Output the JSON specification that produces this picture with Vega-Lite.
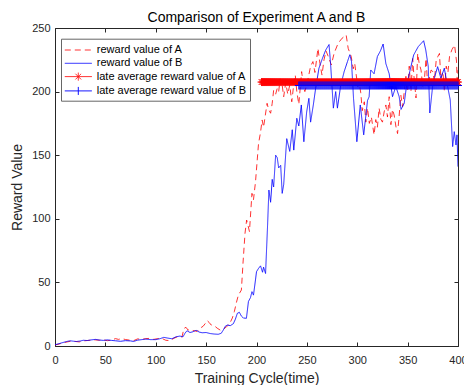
{
"$schema":"https://vega.github.io/schema/vega-lite/v6.json",
"width":403,"height":318,
"autosize":{"type":"none"},
"padding":{"left":55,"top":28,"right":6,"bottom":39},
"background":"white",
"config":{"view":{"stroke":null},"font":"Liberation Sans"},
"title":{"text":"Comparison of Experiment A and B","fontSize":14,"fontWeight":"normal","font":"Liberation Sans","color":"#000000","baseline":"alphabetic","offset":6,"dy":20,"anchor":"middle"},
"data":{"values":[
{"s":"A","x":0,"y":0.8},{"s":"A","x":4,"y":1.5},{"s":"A","x":8,"y":2.5},{"s":"A","x":12,"y":3.2},{"s":"A","x":16,"y":3.8},{"s":"A","x":20,"y":3.6},{"s":"A","x":24,"y":3.2},{"s":"A","x":28,"y":4.0},{"s":"A","x":32,"y":4.3},{"s":"A","x":36,"y":4.6},{"s":"A","x":40,"y":4.8},{"s":"A","x":44,"y":4.5},{"s":"A","x":48,"y":4.8},{"s":"A","x":52,"y":4.2},{"s":"A","x":56,"y":4.6},{"s":"A","x":60,"y":5.8},{"s":"A","x":63,"y":5.2},{"s":"A","x":66,"y":5.8},{"s":"A","x":70,"y":5.1},{"s":"A","x":74,"y":4.6},{"s":"A","x":78,"y":4.2},{"s":"A","x":82,"y":5.6},{"s":"A","x":86,"y":5.2},{"s":"A","x":90,"y":5.8},{"s":"A","x":94,"y":6.0},{"s":"A","x":98,"y":5.2},{"s":"A","x":102,"y":5.8},{"s":"A","x":106,"y":6.0},{"s":"A","x":110,"y":4.5},{"s":"A","x":114,"y":4.2},{"s":"A","x":118,"y":6.0},{"s":"A","x":122,"y":7.5},{"s":"A","x":126,"y":7.0},{"s":"A","x":128,"y":13.8},{"s":"A","x":130,"y":14.7},{"s":"A","x":132,"y":12.6},{"s":"A","x":135,"y":12.5},{"s":"A","x":138,"y":12.0},{"s":"A","x":141,"y":11.5},{"s":"A","x":144,"y":14.0},{"s":"A","x":147,"y":15.5},{"s":"A","x":149,"y":17.5},{"s":"A","x":151,"y":20.0},{"s":"A","x":153,"y":18.5},{"s":"A","x":155,"y":16.5},{"s":"A","x":158,"y":16.0},{"s":"A","x":161,"y":14.0},{"s":"A","x":164,"y":12.5},{"s":"A","x":167,"y":13.0},{"s":"A","x":170,"y":15.0},{"s":"A","x":173,"y":17.0},{"s":"A","x":176,"y":22.0},{"s":"A","x":178,"y":27.0},{"s":"A","x":180,"y":34.0},{"s":"A","x":182,"y":40.0},{"s":"A","x":185,"y":44.0},{"s":"A","x":186.6,"y":65.0},{"s":"A","x":188.6,"y":88.6},{"s":"A","x":190.2,"y":99.0},{"s":"A","x":191.5,"y":95.0},{"s":"A","x":193,"y":90.0},{"s":"A","x":195.5,"y":120.0},{"s":"A","x":197,"y":115.0},{"s":"A","x":199,"y":129.0},{"s":"A","x":202,"y":159.0},{"s":"A","x":204,"y":168.0},{"s":"A","x":205.6,"y":177.7},{"s":"A","x":207,"y":172.0},{"s":"A","x":208.5,"y":180.0},{"s":"A","x":210.5,"y":190.8},{"s":"A","x":212,"y":186.0},{"s":"A","x":214,"y":183.0},{"s":"A","x":215.6,"y":190.8},{"s":"A","x":217,"y":201.0},{"s":"A","x":219,"y":198.0},{"s":"A","x":220.6,"y":202.6},{"s":"A","x":222,"y":200.0},{"s":"A","x":223.5,"y":210.0},{"s":"A","x":225.5,"y":205.0},{"s":"A","x":227,"y":196.0},{"s":"A","x":229,"y":207.0},{"s":"A","x":231,"y":198.0},{"s":"A","x":233,"y":205.0},{"s":"A","x":235,"y":192.0},{"s":"A","x":237,"y":206.0},{"s":"A","x":238.5,"y":213.0},{"s":"A","x":240,"y":200.0},{"s":"A","x":242,"y":190.0},{"s":"A","x":244.8,"y":215.7},{"s":"A","x":246.5,"y":205.0},{"s":"A","x":248,"y":200.0},{"s":"A","x":250.4,"y":207.0},{"s":"A","x":253.7,"y":220.0},{"s":"A","x":256,"y":223.6},{"s":"A","x":258,"y":215.0},{"s":"A","x":261,"y":234.0},{"s":"A","x":263,"y":222.0},{"s":"A","x":265,"y":213.0},{"s":"A","x":267,"y":225.0},{"s":"A","x":269,"y":232.0},{"s":"A","x":271,"y":228.0},{"s":"A","x":274.3,"y":221.0},{"s":"A","x":277,"y":230.0},{"s":"A","x":281,"y":238.0},{"s":"A","x":285,"y":242.0},{"s":"A","x":289,"y":244.5},{"s":"A","x":291,"y":234.0},{"s":"A","x":294,"y":227.6},{"s":"A","x":296,"y":218.0},{"s":"A","x":297.5,"y":222.0},{"s":"A","x":299,"y":213.0},{"s":"A","x":300.5,"y":204.0},{"s":"A","x":302,"y":206.5},{"s":"A","x":303.5,"y":199.0},{"s":"A","x":305,"y":185.0},{"s":"A","x":307,"y":192.0},{"s":"A","x":308.5,"y":176.0},{"s":"A","x":310.2,"y":187.0},{"s":"A","x":312,"y":175.0},{"s":"A","x":314,"y":180.0},{"s":"A","x":316.7,"y":166.0},{"s":"A","x":318.4,"y":178.0},{"s":"A","x":320,"y":172.0},{"s":"A","x":321.7,"y":187.0},{"s":"A","x":323.5,"y":178.0},{"s":"A","x":325,"y":176.0},{"s":"A","x":326.7,"y":184.0},{"s":"A","x":328.4,"y":189.5},{"s":"A","x":330,"y":180.0},{"s":"A","x":331.7,"y":196.0},{"s":"A","x":333.4,"y":174.0},{"s":"A","x":335,"y":186.0},{"s":"A","x":336.6,"y":181.6},{"s":"A","x":338.5,"y":172.0},{"s":"A","x":340,"y":167.0},{"s":"A","x":341.5,"y":180.0},{"s":"A","x":343.3,"y":197.0},{"s":"A","x":345,"y":188.0},{"s":"A","x":348.3,"y":212.0},{"s":"A","x":350,"y":200.0},{"s":"A","x":351.6,"y":220.0},{"s":"A","x":353.3,"y":200.0},{"s":"A","x":355,"y":226.0},{"s":"A","x":356.5,"y":210.0},{"s":"A","x":358.3,"y":195.0},{"s":"A","x":360,"y":230.0},{"s":"A","x":361.5,"y":222.0},{"s":"A","x":363.3,"y":217.0},{"s":"A","x":365,"y":204.0},{"s":"A","x":366.6,"y":209.0},{"s":"A","x":368.3,"y":226.0},{"s":"A","x":370,"y":204.0},{"s":"A","x":371.5,"y":210.0},{"s":"A","x":373.3,"y":217.0},{"s":"A","x":375,"y":215.7},{"s":"A","x":376.5,"y":208.0},{"s":"A","x":378.3,"y":224.0},{"s":"A","x":380,"y":227.6},{"s":"A","x":381.6,"y":230.0},{"s":"A","x":383,"y":210.0},{"s":"A","x":385,"y":215.7},{"s":"A","x":386.5,"y":200.0},{"s":"A","x":388.3,"y":220.0},{"s":"A","x":390,"y":215.0},{"s":"A","x":391.6,"y":227.6},{"s":"A","x":394,"y":233.0},{"s":"A","x":396.6,"y":236.6},{"s":"A","x":398.5,"y":224.0},{"s":"A","x":399.3,"y":205.0},{"s":"A","x":400,"y":217.0},
{"s":"B","x":0,"y":1.0},{"s":"B","x":3,"y":1.6},{"s":"B","x":6,"y":2.3},{"s":"B","x":9,"y":3.0},{"s":"B","x":12,"y":3.6},{"s":"B","x":15,"y":4.1},{"s":"B","x":18,"y":3.8},{"s":"B","x":21,"y":3.5},{"s":"B","x":25,"y":3.9},{"s":"B","x":28,"y":4.5},{"s":"B","x":32,"y":4.3},{"s":"B","x":36,"y":4.8},{"s":"B","x":40,"y":5.2},{"s":"B","x":44,"y":4.7},{"s":"B","x":48,"y":4.4},{"s":"B","x":52,"y":4.8},{"s":"B","x":56,"y":4.4},{"s":"B","x":60,"y":4.1},{"s":"B","x":65,"y":3.7},{"s":"B","x":70,"y":4.2},{"s":"B","x":75,"y":4.0},{"s":"B","x":78,"y":3.6},{"s":"B","x":82,"y":4.6},{"s":"B","x":86,"y":5.0},{"s":"B","x":90,"y":5.4},{"s":"B","x":95,"y":5.0},{"s":"B","x":100,"y":5.0},{"s":"B","x":104,"y":5.7},{"s":"B","x":108,"y":6.8},{"s":"B","x":112,"y":6.2},{"s":"B","x":116,"y":5.7},{"s":"B","x":120,"y":7.2},{"s":"B","x":124,"y":7.8},{"s":"B","x":127,"y":7.2},{"s":"B","x":129,"y":10.0},{"s":"B","x":131,"y":12.0},{"s":"B","x":134,"y":10.6},{"s":"B","x":137,"y":11.2},{"s":"B","x":140,"y":12.4},{"s":"B","x":143,"y":11.0},{"s":"B","x":146,"y":10.4},{"s":"B","x":150,"y":10.6},{"s":"B","x":154,"y":9.8},{"s":"B","x":158,"y":9.4},{"s":"B","x":162,"y":9.2},{"s":"B","x":165,"y":10.0},{"s":"B","x":167,"y":12.5},{"s":"B","x":169,"y":15.5},{"s":"B","x":171,"y":16.5},{"s":"B","x":174,"y":16.0},{"s":"B","x":177,"y":17.5},{"s":"B","x":179,"y":21.0},{"s":"B","x":181,"y":25.7},{"s":"B","x":183,"y":26.5},{"s":"B","x":185,"y":23.5},{"s":"B","x":187,"y":22.0},{"s":"B","x":190,"y":21.8},{"s":"B","x":192,"y":35.0},{"s":"B","x":194,"y":38.0},{"s":"B","x":195.5,"y":42.7},{"s":"B","x":197,"y":40.0},{"s":"B","x":199,"y":52.0},{"s":"B","x":200,"y":58.4},{"s":"B","x":202,"y":61.0},{"s":"B","x":204,"y":63.0},{"s":"B","x":206,"y":58.0},{"s":"B","x":207,"y":62.0},{"s":"B","x":209,"y":57.0},{"s":"B","x":211,"y":95.0},{"s":"B","x":212.3,"y":122.6},{"s":"B","x":214,"y":113.0},{"s":"B","x":215.6,"y":131.0},{"s":"B","x":217,"y":125.0},{"s":"B","x":219,"y":150.0},{"s":"B","x":220.6,"y":148.0},{"s":"B","x":222,"y":140.0},{"s":"B","x":224,"y":142.0},{"s":"B","x":225.5,"y":120.0},{"s":"B","x":227,"y":127.0},{"s":"B","x":230,"y":163.0},{"s":"B","x":233,"y":153.0},{"s":"B","x":235.5,"y":170.0},{"s":"B","x":237,"y":154.0},{"s":"B","x":240,"y":179.0},{"s":"B","x":242,"y":173.0},{"s":"B","x":244.5,"y":189.5},{"s":"B","x":247,"y":160.6},{"s":"B","x":249.8,"y":184.0},{"s":"B","x":252,"y":194.7},{"s":"B","x":253.7,"y":176.0},{"s":"B","x":256.4,"y":189.5},{"s":"B","x":258.7,"y":202.6},{"s":"B","x":262,"y":218.4},{"s":"B","x":265.4,"y":226.0},{"s":"B","x":268.7,"y":232.7},{"s":"B","x":272,"y":237.0},{"s":"B","x":273.6,"y":221.0},{"s":"B","x":276.3,"y":187.0},{"s":"B","x":278.6,"y":200.0},{"s":"B","x":280.3,"y":187.0},{"s":"B","x":283.6,"y":205.0},{"s":"B","x":287,"y":215.7},{"s":"B","x":290.3,"y":223.6},{"s":"B","x":292.6,"y":229.0},{"s":"B","x":294.3,"y":223.6},{"s":"B","x":296.3,"y":194.7},{"s":"B","x":299.6,"y":160.6},{"s":"B","x":303,"y":189.5},{"s":"B","x":306.4,"y":166.0},{"s":"B","x":310.2,"y":193.0},{"s":"B","x":311.8,"y":196.0},{"s":"B","x":313.4,"y":217.0},{"s":"B","x":316.7,"y":214.0},{"s":"B","x":320,"y":227.6},{"s":"B","x":323,"y":232.0},{"s":"B","x":325.7,"y":237.4},{"s":"B","x":328.4,"y":222.0},{"s":"B","x":331.7,"y":214.0},{"s":"B","x":335,"y":196.0},{"s":"B","x":338.3,"y":204.0},{"s":"B","x":341.6,"y":196.0},{"s":"B","x":343.5,"y":186.0},{"s":"B","x":346.6,"y":190.8},{"s":"B","x":349,"y":205.0},{"s":"B","x":351.6,"y":214.0},{"s":"B","x":356,"y":228.8},{"s":"B","x":360.5,"y":235.3},{"s":"B","x":365.9,"y":240.0},{"s":"B","x":368,"y":232.7},{"s":"B","x":370.5,"y":219.6},{"s":"B","x":372,"y":183.2},{"s":"B","x":374.8,"y":204.0},{"s":"B","x":377,"y":212.0},{"s":"B","x":379.8,"y":219.6},{"s":"B","x":383,"y":210.5},{"s":"B","x":386.4,"y":218.4},{"s":"B","x":389.7,"y":204.0},{"s":"B","x":392.3,"y":193.4},{"s":"B","x":394.7,"y":156.8},{"s":"B","x":396.3,"y":168.5},{"s":"B","x":398,"y":158.0},{"s":"B","x":399,"y":166.0},{"s":"B","x":400,"y":141.0},
{"s":"mA","x":205,"y":207.5},{"s":"mA","x":206,"y":207.5},{"s":"mA","x":207,"y":207.5},{"s":"mA","x":208,"y":207.5},{"s":"mA","x":209,"y":207.5},{"s":"mA","x":210,"y":207.5},{"s":"mA","x":211,"y":207.5},{"s":"mA","x":212,"y":207.5},{"s":"mA","x":213,"y":207.5},{"s":"mA","x":214,"y":207.5},{"s":"mA","x":215,"y":207.5},{"s":"mA","x":216,"y":207.5},{"s":"mA","x":217,"y":207.5},{"s":"mA","x":218,"y":207.5},{"s":"mA","x":219,"y":207.5},{"s":"mA","x":220,"y":207.5},{"s":"mA","x":221,"y":207.5},{"s":"mA","x":222,"y":207.5},{"s":"mA","x":223,"y":207.5},{"s":"mA","x":224,"y":207.5},{"s":"mA","x":225,"y":207.5},{"s":"mA","x":226,"y":207.5},{"s":"mA","x":227,"y":207.5},{"s":"mA","x":228,"y":207.5},{"s":"mA","x":229,"y":207.5},{"s":"mA","x":230,"y":207.5},{"s":"mA","x":231,"y":207.5},{"s":"mA","x":232,"y":207.5},{"s":"mA","x":233,"y":207.5},{"s":"mA","x":234,"y":207.5},{"s":"mA","x":235,"y":207.5},{"s":"mA","x":236,"y":207.5},{"s":"mA","x":237,"y":207.5},{"s":"mA","x":238,"y":207.5},{"s":"mA","x":239,"y":207.5},{"s":"mA","x":240,"y":207.5},{"s":"mA","x":241,"y":207.5},{"s":"mA","x":242,"y":207.5},{"s":"mA","x":243,"y":207.5},{"s":"mA","x":244,"y":207.5},{"s":"mA","x":245,"y":207.5},{"s":"mA","x":246,"y":207.5},{"s":"mA","x":247,"y":207.5},{"s":"mA","x":248,"y":207.5},{"s":"mA","x":249,"y":207.5},{"s":"mA","x":250,"y":207.5},{"s":"mA","x":251,"y":207.5},{"s":"mA","x":252,"y":207.5},{"s":"mA","x":253,"y":207.5},{"s":"mA","x":254,"y":207.5},{"s":"mA","x":255,"y":207.5},{"s":"mA","x":256,"y":207.5},{"s":"mA","x":257,"y":207.5},{"s":"mA","x":258,"y":207.5},{"s":"mA","x":259,"y":207.5},{"s":"mA","x":260,"y":207.5},{"s":"mA","x":261,"y":207.5},{"s":"mA","x":262,"y":207.5},{"s":"mA","x":263,"y":207.5},{"s":"mA","x":264,"y":207.5},{"s":"mA","x":265,"y":207.5},{"s":"mA","x":266,"y":207.5},{"s":"mA","x":267,"y":207.5},{"s":"mA","x":268,"y":207.5},{"s":"mA","x":269,"y":207.5},{"s":"mA","x":270,"y":207.5},{"s":"mA","x":271,"y":207.5},{"s":"mA","x":272,"y":207.5},{"s":"mA","x":273,"y":207.5},{"s":"mA","x":274,"y":207.5},{"s":"mA","x":275,"y":207.5},{"s":"mA","x":276,"y":207.5},{"s":"mA","x":277,"y":207.5},{"s":"mA","x":278,"y":207.5},{"s":"mA","x":279,"y":207.5},{"s":"mA","x":280,"y":207.5},{"s":"mA","x":281,"y":207.5},{"s":"mA","x":282,"y":207.5},{"s":"mA","x":283,"y":207.5},{"s":"mA","x":284,"y":207.5},{"s":"mA","x":285,"y":207.5},{"s":"mA","x":286,"y":207.5},{"s":"mA","x":287,"y":207.5},{"s":"mA","x":288,"y":207.5},{"s":"mA","x":289,"y":207.5},{"s":"mA","x":290,"y":207.5},{"s":"mA","x":291,"y":207.5},{"s":"mA","x":292,"y":207.5},{"s":"mA","x":293,"y":207.5},{"s":"mA","x":294,"y":207.5},{"s":"mA","x":295,"y":207.5},{"s":"mA","x":296,"y":207.5},{"s":"mA","x":297,"y":207.5},{"s":"mA","x":298,"y":207.5},{"s":"mA","x":299,"y":207.5},{"s":"mA","x":300,"y":207.5},{"s":"mA","x":301,"y":207.5},{"s":"mA","x":302,"y":207.5},{"s":"mA","x":303,"y":207.5},{"s":"mA","x":304,"y":207.5},{"s":"mA","x":305,"y":207.5},{"s":"mA","x":306,"y":207.5},{"s":"mA","x":307,"y":207.5},{"s":"mA","x":308,"y":207.5},{"s":"mA","x":309,"y":207.5},{"s":"mA","x":310,"y":207.5},{"s":"mA","x":311,"y":207.5},{"s":"mA","x":312,"y":207.5},{"s":"mA","x":313,"y":207.5},{"s":"mA","x":314,"y":207.5},{"s":"mA","x":315,"y":207.5},{"s":"mA","x":316,"y":207.5},{"s":"mA","x":317,"y":207.5},{"s":"mA","x":318,"y":207.5},{"s":"mA","x":319,"y":207.5},{"s":"mA","x":320,"y":207.5},{"s":"mA","x":321,"y":207.5},{"s":"mA","x":322,"y":207.5},{"s":"mA","x":323,"y":207.5},{"s":"mA","x":324,"y":207.5},{"s":"mA","x":325,"y":207.5},{"s":"mA","x":326,"y":207.5},{"s":"mA","x":327,"y":207.5},{"s":"mA","x":328,"y":207.5},{"s":"mA","x":329,"y":207.5},{"s":"mA","x":330,"y":207.5},{"s":"mA","x":331,"y":207.5},{"s":"mA","x":332,"y":207.5},{"s":"mA","x":333,"y":207.5},{"s":"mA","x":334,"y":207.5},{"s":"mA","x":335,"y":207.5},{"s":"mA","x":336,"y":207.5},{"s":"mA","x":337,"y":207.5},{"s":"mA","x":338,"y":207.5},{"s":"mA","x":339,"y":207.5},{"s":"mA","x":340,"y":207.5},{"s":"mA","x":341,"y":207.5},{"s":"mA","x":342,"y":207.5},{"s":"mA","x":343,"y":207.5},{"s":"mA","x":344,"y":207.5},{"s":"mA","x":345,"y":207.5},{"s":"mA","x":346,"y":207.5},{"s":"mA","x":347,"y":207.5},{"s":"mA","x":348,"y":207.5},{"s":"mA","x":349,"y":207.5},{"s":"mA","x":350,"y":207.5},{"s":"mA","x":351,"y":207.5},{"s":"mA","x":352,"y":207.5},{"s":"mA","x":353,"y":207.5},{"s":"mA","x":354,"y":207.5},{"s":"mA","x":355,"y":207.5},{"s":"mA","x":356,"y":207.5},{"s":"mA","x":357,"y":207.5},{"s":"mA","x":358,"y":207.5},{"s":"mA","x":359,"y":207.5},{"s":"mA","x":360,"y":207.5},{"s":"mA","x":361,"y":207.5},{"s":"mA","x":362,"y":207.5},{"s":"mA","x":363,"y":207.5},{"s":"mA","x":364,"y":207.5},{"s":"mA","x":365,"y":207.5},{"s":"mA","x":366,"y":207.5},{"s":"mA","x":367,"y":207.5},{"s":"mA","x":368,"y":207.5},{"s":"mA","x":369,"y":207.5},{"s":"mA","x":370,"y":207.5},{"s":"mA","x":371,"y":207.5},{"s":"mA","x":372,"y":207.5},{"s":"mA","x":373,"y":207.5},{"s":"mA","x":374,"y":207.5},{"s":"mA","x":375,"y":207.5},{"s":"mA","x":376,"y":207.5},{"s":"mA","x":377,"y":207.5},{"s":"mA","x":378,"y":207.5},{"s":"mA","x":379,"y":207.5},{"s":"mA","x":380,"y":207.5},{"s":"mA","x":381,"y":207.5},{"s":"mA","x":382,"y":207.5},{"s":"mA","x":383,"y":207.5},{"s":"mA","x":384,"y":207.5},{"s":"mA","x":385,"y":207.5},{"s":"mA","x":386,"y":207.5},{"s":"mA","x":387,"y":207.5},{"s":"mA","x":388,"y":207.5},{"s":"mA","x":389,"y":207.5},{"s":"mA","x":390,"y":207.5},{"s":"mA","x":391,"y":207.5},{"s":"mA","x":392,"y":207.5},{"s":"mA","x":393,"y":207.5},{"s":"mA","x":394,"y":207.5},{"s":"mA","x":395,"y":207.5},{"s":"mA","x":396,"y":207.5},{"s":"mA","x":397,"y":207.5},{"s":"mA","x":398,"y":207.5},{"s":"mA","x":399,"y":207.5},{"s":"mA","x":400,"y":207.5},
{"s":"mB","x":242,"y":204.8},{"s":"mB","x":243,"y":204.8},{"s":"mB","x":244,"y":204.8},{"s":"mB","x":245,"y":204.8},{"s":"mB","x":246,"y":204.8},{"s":"mB","x":247,"y":204.8},{"s":"mB","x":248,"y":204.8},{"s":"mB","x":249,"y":204.8},{"s":"mB","x":250,"y":204.8},{"s":"mB","x":251,"y":204.8},{"s":"mB","x":252,"y":204.8},{"s":"mB","x":253,"y":204.8},{"s":"mB","x":254,"y":204.8},{"s":"mB","x":255,"y":204.8},{"s":"mB","x":256,"y":204.8},{"s":"mB","x":257,"y":204.8},{"s":"mB","x":258,"y":204.8},{"s":"mB","x":259,"y":204.8},{"s":"mB","x":260,"y":204.8},{"s":"mB","x":261,"y":204.8},{"s":"mB","x":262,"y":204.8},{"s":"mB","x":263,"y":204.8},{"s":"mB","x":264,"y":204.8},{"s":"mB","x":265,"y":204.8},{"s":"mB","x":266,"y":204.8},{"s":"mB","x":267,"y":204.8},{"s":"mB","x":268,"y":204.8},{"s":"mB","x":269,"y":204.8},{"s":"mB","x":270,"y":204.8},{"s":"mB","x":271,"y":204.8},{"s":"mB","x":272,"y":204.8},{"s":"mB","x":273,"y":204.8},{"s":"mB","x":274,"y":204.8},{"s":"mB","x":275,"y":204.8},{"s":"mB","x":276,"y":204.8},{"s":"mB","x":277,"y":204.8},{"s":"mB","x":278,"y":204.8},{"s":"mB","x":279,"y":204.8},{"s":"mB","x":280,"y":204.8},{"s":"mB","x":281,"y":204.8},{"s":"mB","x":282,"y":204.8},{"s":"mB","x":283,"y":204.8},{"s":"mB","x":284,"y":204.8},{"s":"mB","x":285,"y":204.8},{"s":"mB","x":286,"y":204.8},{"s":"mB","x":287,"y":204.8},{"s":"mB","x":288,"y":204.8},{"s":"mB","x":289,"y":204.8},{"s":"mB","x":290,"y":204.8},{"s":"mB","x":291,"y":204.8},{"s":"mB","x":292,"y":204.8},{"s":"mB","x":293,"y":204.8},{"s":"mB","x":294,"y":204.8},{"s":"mB","x":295,"y":204.8},{"s":"mB","x":296,"y":204.8},{"s":"mB","x":297,"y":204.8},{"s":"mB","x":298,"y":204.8},{"s":"mB","x":299,"y":204.8},{"s":"mB","x":300,"y":204.8},{"s":"mB","x":301,"y":204.8},{"s":"mB","x":302,"y":204.8},{"s":"mB","x":303,"y":204.8},{"s":"mB","x":304,"y":204.8},{"s":"mB","x":305,"y":204.8},{"s":"mB","x":306,"y":204.8},{"s":"mB","x":307,"y":204.8},{"s":"mB","x":308,"y":204.8},{"s":"mB","x":309,"y":204.8},{"s":"mB","x":310,"y":204.8},{"s":"mB","x":311,"y":204.8},{"s":"mB","x":312,"y":204.8},{"s":"mB","x":313,"y":204.8},{"s":"mB","x":314,"y":204.8},{"s":"mB","x":315,"y":204.8},{"s":"mB","x":316,"y":204.8},{"s":"mB","x":317,"y":204.8},{"s":"mB","x":318,"y":204.8},{"s":"mB","x":319,"y":204.8},{"s":"mB","x":320,"y":204.8},{"s":"mB","x":321,"y":204.8},{"s":"mB","x":322,"y":204.8},{"s":"mB","x":323,"y":204.8},{"s":"mB","x":324,"y":204.8},{"s":"mB","x":325,"y":204.8},{"s":"mB","x":326,"y":204.8},{"s":"mB","x":327,"y":204.8},{"s":"mB","x":328,"y":204.8},{"s":"mB","x":329,"y":204.8},{"s":"mB","x":330,"y":204.8},{"s":"mB","x":331,"y":204.8},{"s":"mB","x":332,"y":204.8},{"s":"mB","x":333,"y":204.8},{"s":"mB","x":334,"y":204.8},{"s":"mB","x":335,"y":204.8},{"s":"mB","x":336,"y":204.8},{"s":"mB","x":337,"y":204.8},{"s":"mB","x":338,"y":204.8},{"s":"mB","x":339,"y":204.8},{"s":"mB","x":340,"y":204.8},{"s":"mB","x":341,"y":204.8},{"s":"mB","x":342,"y":204.8},{"s":"mB","x":343,"y":204.8},{"s":"mB","x":344,"y":204.8},{"s":"mB","x":345,"y":204.8},{"s":"mB","x":346,"y":204.8},{"s":"mB","x":347,"y":204.8},{"s":"mB","x":348,"y":204.8},{"s":"mB","x":349,"y":204.8},{"s":"mB","x":350,"y":204.8},{"s":"mB","x":351,"y":204.8},{"s":"mB","x":352,"y":204.8},{"s":"mB","x":353,"y":204.8},{"s":"mB","x":354,"y":204.8},{"s":"mB","x":355,"y":204.8},{"s":"mB","x":356,"y":204.8},{"s":"mB","x":357,"y":204.8},{"s":"mB","x":358,"y":204.8},{"s":"mB","x":359,"y":204.8},{"s":"mB","x":360,"y":204.8},{"s":"mB","x":361,"y":204.8},{"s":"mB","x":362,"y":204.8},{"s":"mB","x":363,"y":204.8},{"s":"mB","x":364,"y":204.8},{"s":"mB","x":365,"y":204.8},{"s":"mB","x":366,"y":204.8},{"s":"mB","x":367,"y":204.8},{"s":"mB","x":368,"y":204.8},{"s":"mB","x":369,"y":204.8},{"s":"mB","x":370,"y":204.8},{"s":"mB","x":371,"y":204.8},{"s":"mB","x":372,"y":204.8},{"s":"mB","x":373,"y":204.8},{"s":"mB","x":374,"y":204.8},{"s":"mB","x":375,"y":204.8},{"s":"mB","x":376,"y":204.8},{"s":"mB","x":377,"y":204.8},{"s":"mB","x":378,"y":204.8},{"s":"mB","x":379,"y":204.8},{"s":"mB","x":380,"y":204.8},{"s":"mB","x":381,"y":204.8},{"s":"mB","x":382,"y":204.8},{"s":"mB","x":383,"y":204.8},{"s":"mB","x":384,"y":204.8},{"s":"mB","x":385,"y":204.8},{"s":"mB","x":386,"y":204.8},{"s":"mB","x":387,"y":204.8},{"s":"mB","x":388,"y":204.8},{"s":"mB","x":389,"y":204.8},{"s":"mB","x":390,"y":204.8},{"s":"mB","x":391,"y":204.8},{"s":"mB","x":392,"y":204.8},{"s":"mB","x":393,"y":204.8},{"s":"mB","x":394,"y":204.8},{"s":"mB","x":395,"y":204.8},{"s":"mB","x":396,"y":204.8},{"s":"mB","x":397,"y":204.8},{"s":"mB","x":398,"y":204.8},{"s":"mB","x":399,"y":204.8},{"s":"mB","x":400,"y":204.8}
]},
"resolve":{"axis":{"x":"independent","y":"independent"}},
"layer":[
{"mark":{"type":"line","strokeWidth":1,"clip":true},
 "encoding":{
  "x":{"field":"x","type":"quantitative","scale":{"domain":[0,400],"nice":false,"zero":false},
       "axis":{"orient":"bottom","values":[0,50,100,150,200,250,300,350,400],"tickSize":-4,"labelPadding":12,"labelFontSize":11,"labelColor":"#262626","labelFont":"Liberation Sans","domainColor":"#262626","tickColor":"#262626","grid":false,"labelFlush":false,"labelOverlap":false,"title":"Training Cycle(time)","titleFontSize":14,"titleFontWeight":"normal","titleColor":"#262626","titleFont":"Liberation Sans","titlePadding":6}},
  "y":{"field":"y","type":"quantitative","scale":{"domain":[0,250],"nice":false},
       "axis":{"orient":"left","values":[0,50,100,150,200,250],"tickSize":-4,"labelPadding":9,"labelFontSize":11,"labelColor":"#262626","labelFont":"Liberation Sans","domainColor":"#262626","tickColor":"#262626","grid":false,"labelFlush":false,"labelOverlap":false,"title":"Reward Value","titleFontSize":14,"titleFontWeight":"normal","titleColor":"#262626","titleFont":"Liberation Sans","titlePadding":7}},
  "color":{"field":"s","type":"nominal","scale":{"domain":["A","B","mA","mB"],"range":["#ff0000","#0000ff","#ff0000","#0000ff"]},
   "legend":{"orient":"none","legendX":6,"legendY":10.7,"title":null,
    "labelExpr":"datum.label==='A' ? 'reward value of A' : datum.label==='B' ? 'reward value of B' : datum.label==='mA' ? 'late average reward value of A' : 'late average reward value of B'",
    "labelFontSize":11,"labelColor":"#000000","labelFont":"Liberation Sans","labelOffset":11,
    "symbolSize":196,"symbolStrokeWidth":1,"symbolOffset":6,"rowPadding":0.3,"padding":3.8,
    "fillColor":"#ffffff","strokeColor":"#666666",
    "encode":{"symbols":{"update":{
      "shape":{"signal":"datum.value==='mA' ? 'M-1.93,0L1.93,0M0,-0.57L0,0.57M-0.4,-0.4L0.4,0.4M-0.4,0.4L0.4,-0.4' : datum.value==='mB' ? 'M-1.93,0L1.93,0M0,-0.57L0,0.57' : 'M-1.93,0L1.93,0'"},
      "strokeDash":{"signal":"datum.value==='A' ? [7.5,7.5] : [1,0]"},
      "stroke":{"signal":"(datum.value==='A' || datum.value==='mA') ? '#ff0000' : '#0000ff'"},
      "opacity":{"value":1},
      "fill":{"value":"transparent"}
    }}}}},
  "opacity":{"field":"s","type":"nominal","scale":{"domain":["A","B","mA","mB"],"range":[0.8,1,1,1]},"legend":null},
  "strokeDash":{"field":"s","type":"nominal","scale":{"domain":["A","B","mA","mB"],"range":[[6,4],[1,0],[1,0],[1,0]]},"legend":null}
 }},
{"transform":[{"filter":"datum.s==='mA'"}],
 "mark":{"type":"point","shape":"M-1,0L1,0M0,-1L0,1M-0.7,-0.7L0.7,0.7M-0.7,0.7L0.7,-0.7","filled":false,"size":64,"strokeWidth":1,"color":"#ff0000","opacity":1},
 "encoding":{
  "x":{"field":"x","type":"quantitative","scale":{"domain":[0,400],"nice":false,"zero":false},
       "axis":{"orient":"top","values":[0,50,100,150,200,250,300,350,400],"tickSize":-4,"labels":false,"title":null,"domainColor":"#262626","tickColor":"#262626","grid":false,"minExtent":0,"maxExtent":0,"labelPadding":0}},
  "y":{"field":"y","type":"quantitative","scale":{"domain":[0,250],"nice":false},
       "axis":{"orient":"right","values":[0,50,100,150,200,250],"tickSize":-4,"labels":false,"title":null,"domainColor":"#262626","tickColor":"#262626","grid":false,"minExtent":0,"maxExtent":0,"labelPadding":0}}
 }},
{"transform":[{"filter":"datum.s==='mB'"}],
 "mark":{"type":"point","shape":"M-1,0L1,0M0,-1L0,1","filled":false,"size":64,"strokeWidth":1,"color":"#0000ff","opacity":1},
 "encoding":{
  "x":{"field":"x","type":"quantitative","axis":null},
  "y":{"field":"y","type":"quantitative","axis":null}
 }}
]
}
